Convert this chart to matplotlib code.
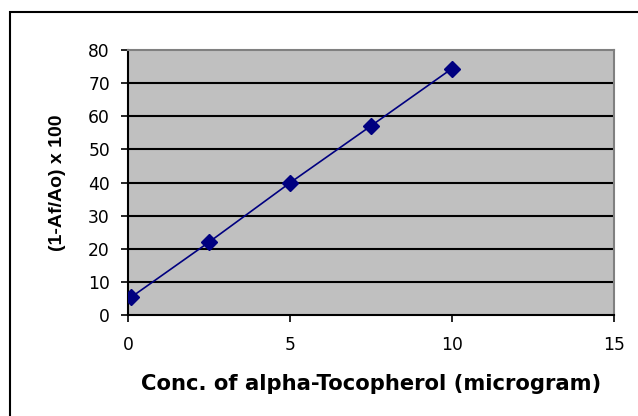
import numpy as np
import matplotlib.pyplot as plt
from matplotlib.patches import Rectangle

plt.rcParams["font.family"] = ["DejaVu Sans"]

# concentration (microgram) and inhibition (%)
conc = [0.1, 2.5, 5.0, 7.5, 10.0]
inhibition = [5.4, 22.0, 39.9, 57.1, 74.4]

x_ticks = [0, 5, 10, 15]
y_ticks = [0, 10, 20, 30, 40, 50, 60, 70, 80]

W, H = 638, 416
fig = plt.figure(figsize=(W / 100, H / 100), dpi=100)

# outer chart border (only left / top visible in the crop)
fig.patches.append(Rectangle((10 / W, -0.1), 1.2, 1 - 12 / H + 0.1,
                             transform=fig.transFigure, fill=False,
                             edgecolor="black", linewidth=1.5, clip_on=False))

ax = fig.add_axes([128 / W, (H - 315) / H, 486 / W, 265 / H])
ax.set_facecolor("#c0c0c0")
ax.set_xlim(0, 15)
ax.set_ylim(0, 80)
ax.set_xticks(x_ticks)
ax.set_yticks(y_ticks)

for y in y_ticks[1:-1]:
    ax.axhline(y, color="black", linewidth=1.5, zorder=1)

ax.plot(conc, inhibition, color="#000080", linewidth=1.2, marker="D",
        markersize=8.5, markerfacecolor="#000080", markeredgecolor="#000080", zorder=3)

for side in ["top", "right"]:
    ax.spines[side].set_color("#808080")
    ax.spines[side].set_linewidth(1.5)
for side in ["left", "bottom"]:
    ax.spines[side].set_color("black")
    ax.spines[side].set_linewidth(1.5)

ax.tick_params(axis="both", direction="out", length=5, width=1.2, labelsize=12.3, colors="black")
ax.tick_params(axis="x", pad=10)
ax.tick_params(axis="y", pad=8)

ax.set_xlabel("Conc. of alpha-Tocopherol (microgram)", fontsize=15.2, fontweight="bold", va="center")
ax.set_ylabel("(1-Af/Ao) x 100", fontsize=14, fontweight="bold", va="center",
              family="Liberation Sans")
ax.xaxis.set_label_coords(0.5, -(384 - 315) / 265)
ax.yaxis.set_label_coords(-(128 - 57) / 486, 0.5)

fig.savefig("out.png", dpi=100)
